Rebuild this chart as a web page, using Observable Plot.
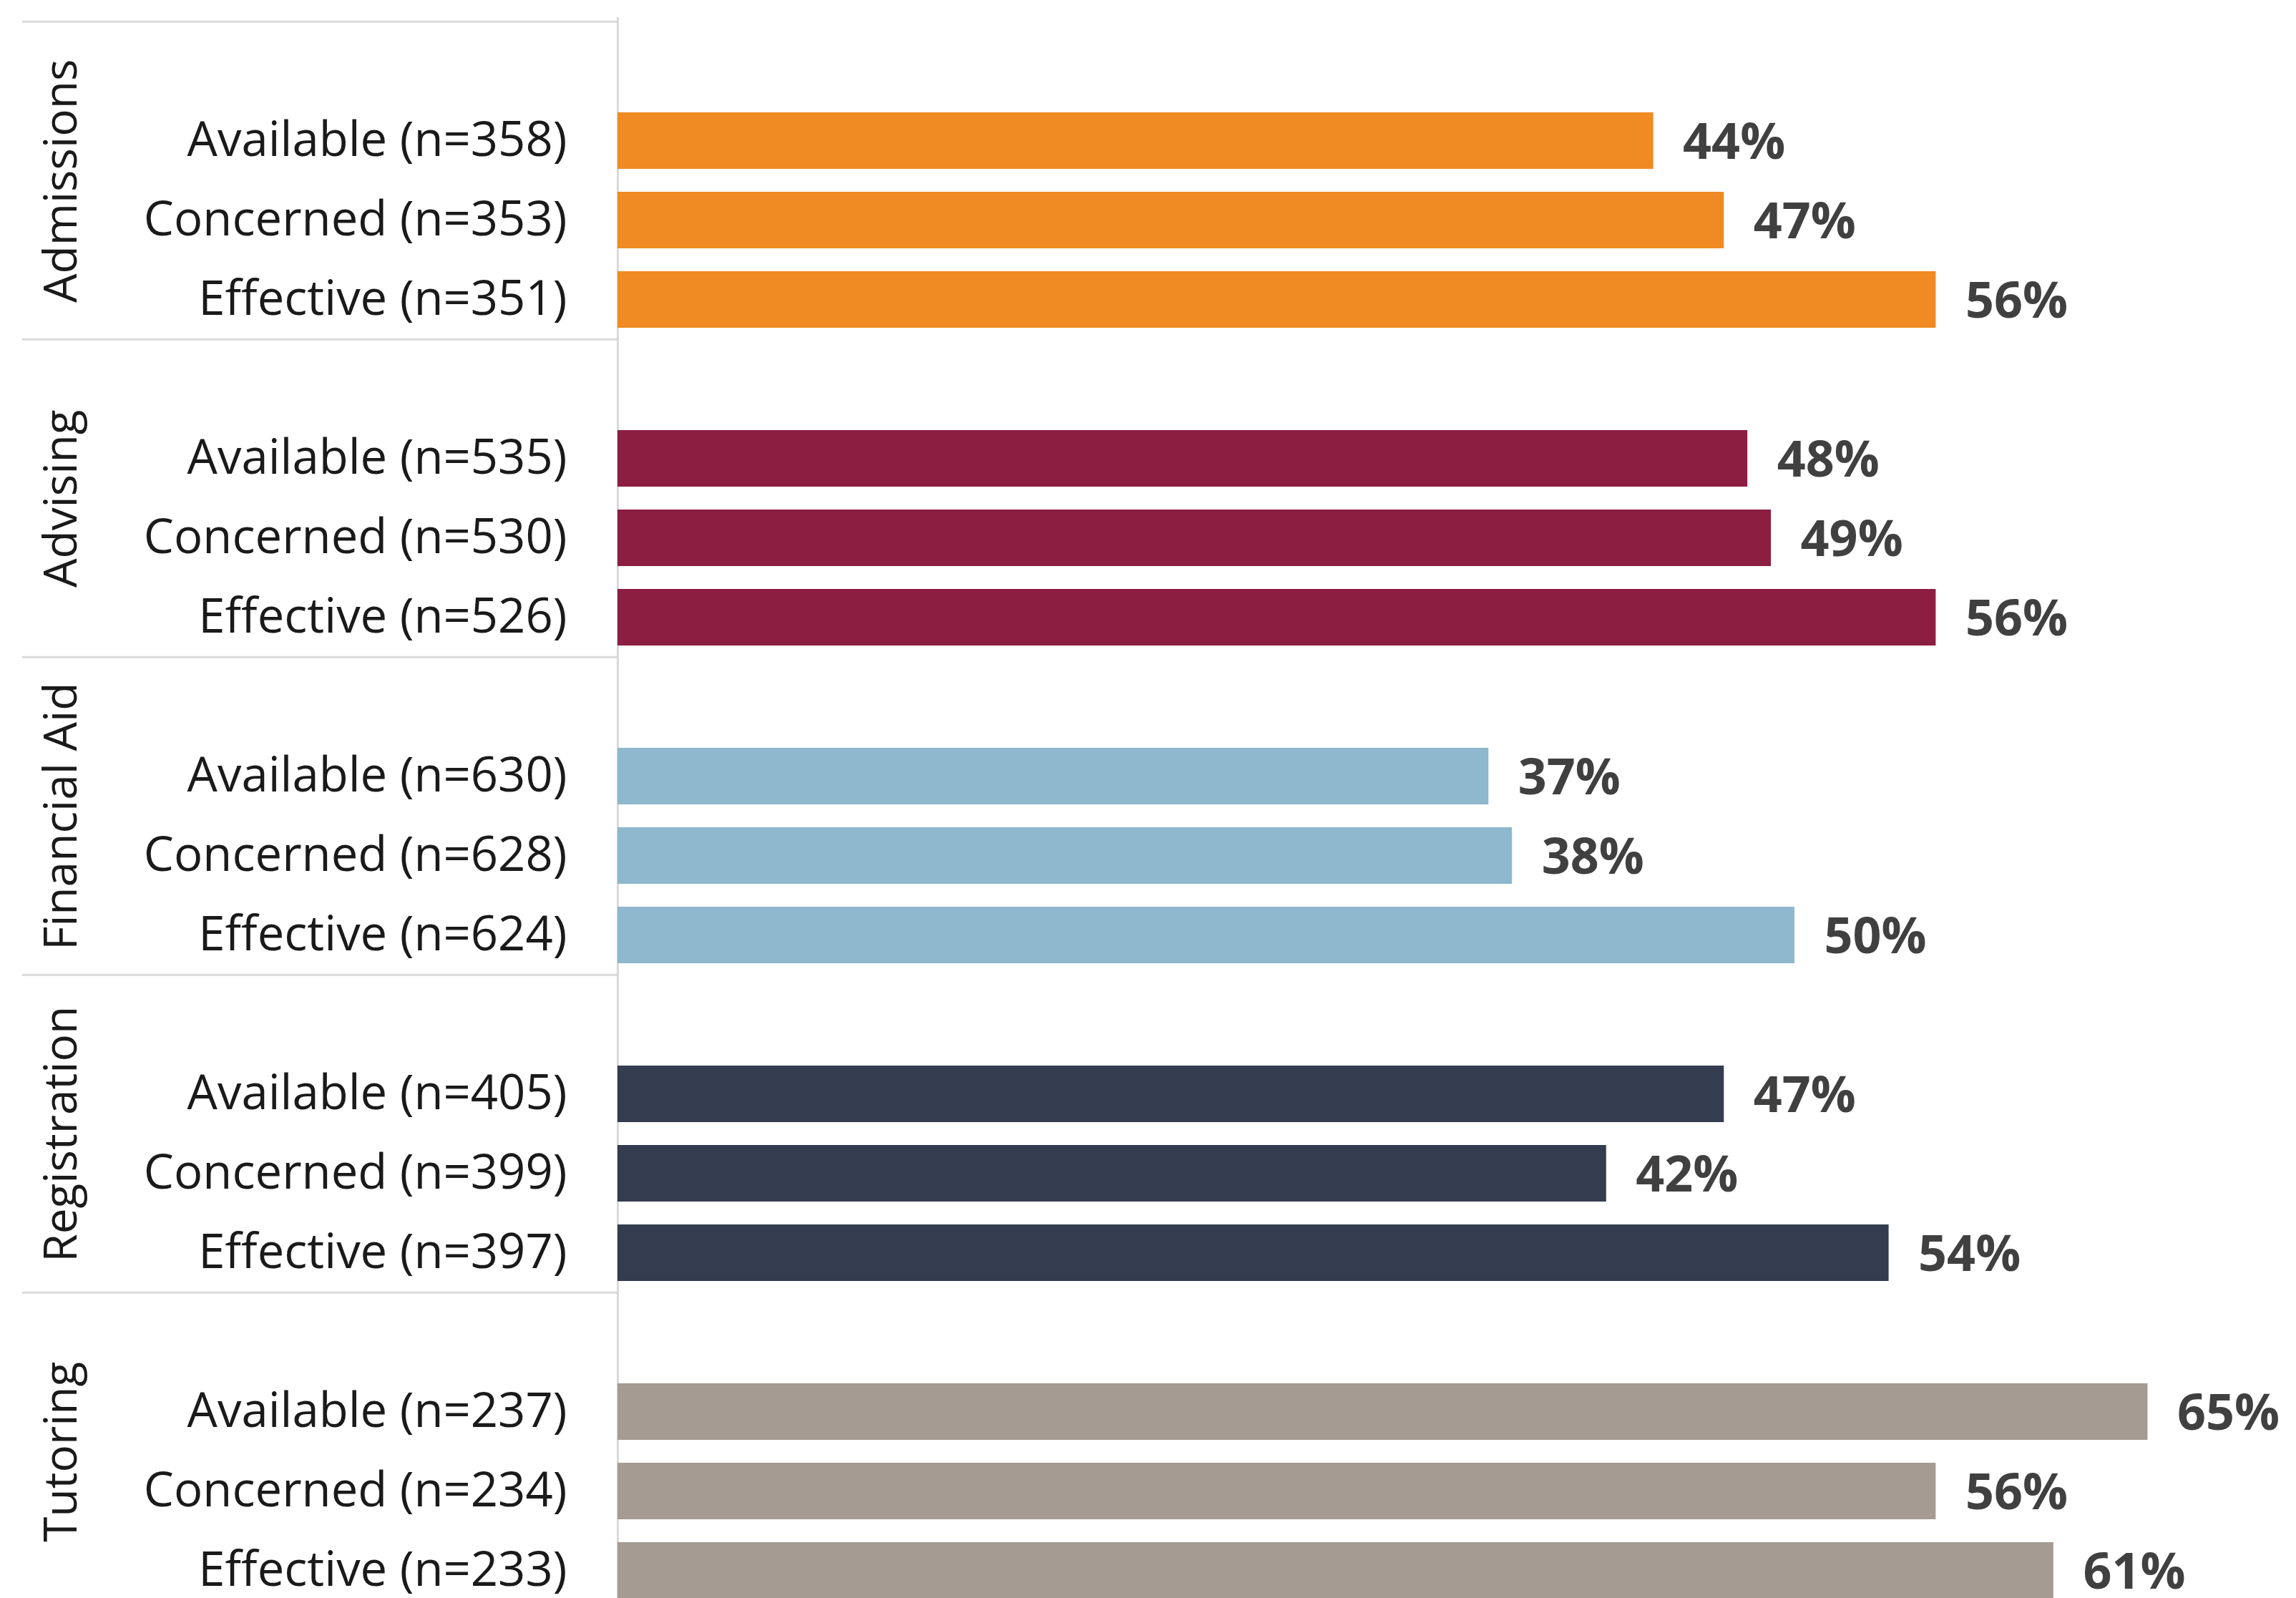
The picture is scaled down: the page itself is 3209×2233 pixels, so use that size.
<!DOCTYPE html>
<html>
<head>
<meta charset="utf-8">
<script src="https://cdn.jsdelivr.net/npm/d3@7"></script>
<script src="https://cdn.jsdelivr.net/npm/@observablehq/plot@0.6"></script>
<style>
  html, body { margin: 0; padding: 0; background: #ffffff; overflow: hidden; }
  #chart svg { display: block; }
</style>
</head>
<body>
<div id="chart"></div>
<script>
const groups = ["Admissions", "Advising", "Financial Aid", "Registration", "Tutoring"];
const measures = ["Available", "Concerned", "Effective"];
const counts = [
  [358, 353, 351],
  [535, 530, 526],
  [630, 628, 624],
  [405, 399, 397],
  [237, 234, 233]
];
const percents = [
  [44, 47, 56],
  [48, 49, 56],
  [37, 38, 50],
  [47, 42, 54],
  [65, 56, 61]
];
const groupColors = ["#EF8B22", "#8B1E41", "#8DB8CD", "#333D4F", "#A69B93"];

const rows = [];
groups.forEach((g, gi) => {
  measures.forEach((m, mi) => {
    rows.push({
      group: g,
      key: g + "|" + m,
      label: `${m} (n=${counts[gi][mi]})`,
      value: percents[gi][mi]
    });
  });
});
const yDomain = groups.flatMap(g => [g + "|gap", ...measures.map(m => g + "|" + m)]);
const groupRows = groups.map(g => ({group: g, gapKey: g + "|gap", midKey: g + "|Available"}));

const W = 3209, H = 2233;
const topY = 24;
const step = 111.55;
const axisX = 863;
const pxPerPct = 32.9;

const chart = Plot.plot({
  width: W,
  height: H,
  marginTop: topY,
  marginBottom: 0,
  marginLeft: 31,
  marginRight: W - axisX,
  style: {background: "#ffffff", fontFamily: "Open Sans, sans-serif", overflow: "hidden"},
  x: {domain: [0, 100], range: [axisX, axisX + 100 * pxPerPct], axis: null},
  y: {type: "band", domain: yDomain, range: [topY, topY + step * yDomain.length], paddingInner: 0.29, paddingOuter: 0.145, axis: null},
  color: {domain: groups, range: groupColors},
  marks: [
    Plot.ruleY(groupRows, {y: "gapKey", dy: -step / 2, stroke: "#d9d9d9", strokeWidth: 3}),
    Plot.ruleX([0], {stroke: "#d9d9d9", strokeWidth: 3}),
    Plot.barX(rows, {x: "value", y: "key", fill: "group"}),
    Plot.text(rows, {x: 0, y: "key", text: "label", dx: -(axisX - 792), textAnchor: "end", fontSize: 67, fill: "#1a1a1a"}),
    Plot.text(rows, {x: "value", y: "key", text: d => d.value + "%", dx: 41, dy: 3, textAnchor: "start", fontSize: 70, fontWeight: "bold", fill: "#404040"}),
    Plot.text(groupRows, {x: 0, y: "midKey", text: "group", dx: -(axisX - 86), dy: step / 2, rotate: -90, fontSize: 64, fill: "#1a1a1a"})
  ]
});
document.getElementById("chart").appendChild(chart);
</script>
</body>
</html>
